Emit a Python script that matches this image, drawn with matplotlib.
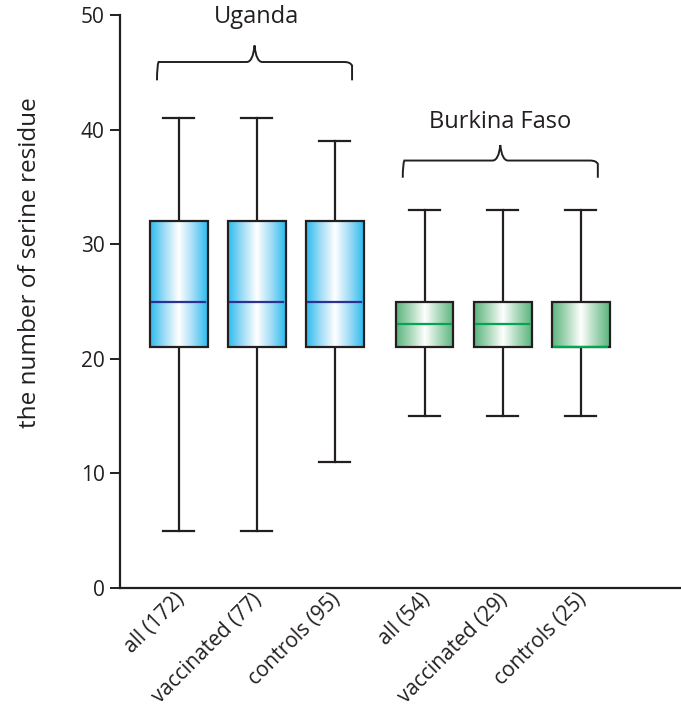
import numpy as np
import matplotlib.pyplot as plt
import matplotlib.transforms as mtrans
from matplotlib.colors import LinearSegmentedColormap
from matplotlib.path import Path
from matplotlib.patches import PathPatch

plt.rcParams['font.family'] = ['Open Sans', 'DejaVu Sans']

etiquetas = ['all (172)', 'vaccinated (77)', 'controls (95)',
             'all (54)', 'vaccinated (29)', 'controls (25)']
minimos = [5, 5, 11, 15, 15, 15]
q1 = [21, 21, 21, 21, 21, 21]
medianas = [25, 25, 25, 23, 23, 21]
q3 = [32, 32, 32, 25, 25, 25]
maximos = [41, 41, 39, 33, 33, 33]
grupos = ['Uganda', 'Burkina Faso']
posiciones = [1, 2, 3, 4.15, 5.15, 6.15]

negro = '#231f20'
azul = LinearSegmentedColormap.from_list('azul', ['#2bbcef', '#9fdcf6', '#ffffff', '#9fdcf6', '#2bbcef'])
verde = LinearSegmentedColormap.from_list('verde', ['#5bb47e', '#a9d8b9', '#ffffff', '#a9d8b9', '#5bb47e'])
col_mediana = ['#2e3192'] * 3 + ['#00a651'] * 3

fig = plt.figure(figsize=(6.81, 7.08), dpi=100)
ax = fig.add_axes([0.176, 0.1695, 0.824, 0.8093])

stats = []
for i in range(len(etiquetas)):
    stats.append(dict(whislo=minimos[i], q1=q1[i], med=medianas[i], q3=q3[i],
                      whishi=maximos[i], fliers=[], label=etiquetas[i]))

ancho = 0.74
ax.bxp(stats, positions=posiciones, widths=ancho, patch_artist=True, showfliers=False,
       boxprops=dict(facecolor='none', edgecolor=negro, linewidth=1.6, zorder=3),
       whiskerprops=dict(color=negro, linewidth=1.6),
       capprops=dict(color=negro, linewidth=1.6),
       capwidths=0.4,
       medianprops=dict(color='none'))

# degradado dentro de cada caja
grad = np.linspace(0, 1, 256).reshape(1, -1)
for i, x in enumerate(posiciones):
    cm = azul if i < 3 else verde
    ax.imshow(grad, cmap=cm, aspect='auto', zorder=2,
              extent=(x - ancho / 2, x + ancho / 2, q1[i], q3[i]))
    ax.plot([x - ancho / 2 + 0.03, x + ancho / 2 - 0.03], [medianas[i], medianas[i]],
            color=col_mediana[i], linewidth=1.6, zorder=4)

# llaves
def llave(ax, x0, x1, y, h):
    xm = (x0 + x1) / 2
    verts = [(x0, y - h), (x0, y - 0.2 * h), (x0 + 0.02, y), (x0 + 0.1, y),
             (xm - 0.1, y), (xm - 0.02, y), (xm, y + 0.9 * h),
             (xm + 0.02, y), (xm + 0.1, y),
             (x1 - 0.1, y), (x1 - 0.02, y), (x1, y - 0.2 * h), (x1, y - h)]
    codes = [Path.MOVETO, Path.CURVE3, Path.CURVE3, Path.LINETO,
             Path.LINETO, Path.CURVE3, Path.CURVE3,
             Path.CURVE3, Path.CURVE3,
             Path.LINETO, Path.CURVE3, Path.CURVE3, Path.LINETO]
    ax.add_patch(PathPatch(Path(verts, codes), facecolor='none', edgecolor=negro,
                           linewidth=1.4, clip_on=False))

llave(ax, 0.72, 3.22, 45.9, 1.6)
llave(ax, 3.87, 6.37, 37.3, 1.5)
ax.text(2.0, 49.8, grupos[0], ha='center', va='center', fontsize=17, color=negro)
ax.text(5.12, 40.7, grupos[1], ha='center', va='center', fontsize=17, color=negro)

ax.set_xlim(0.244, 7.436)
ax.set_ylim(0, 50)
ax.set_yticks([0, 10, 20, 30, 40, 50])
ax.tick_params(axis='y', length=7, width=1.4, labelsize=15, colors=negro, pad=4)
ax.tick_params(axis='x', length=0, labelsize=15, colors=negro, pad=1)
ax.set_xticks(posiciones)
ax.set_xticklabels(etiquetas, rotation=45, ha='right', va='top', rotation_mode='anchor')
desplaza = mtrans.ScaledTranslation(-5 / 100, 0, fig.dpi_scale_trans)
for t in ax.get_xticklabels():
    t.set_transform(t.get_transform() + desplaza)
ax.set_ylabel('the number of serine residue', fontsize=17.5, color=negro)
ax.yaxis.set_label_coords(-0.139, 0.567)
for lado in ['top', 'right']:
    ax.spines[lado].set_visible(False)
for lado in ['left', 'bottom']:
    ax.spines[lado].set_linewidth(1.6)
    ax.spines[lado].set_color(negro)

plt.savefig('out.png', dpi=100)
